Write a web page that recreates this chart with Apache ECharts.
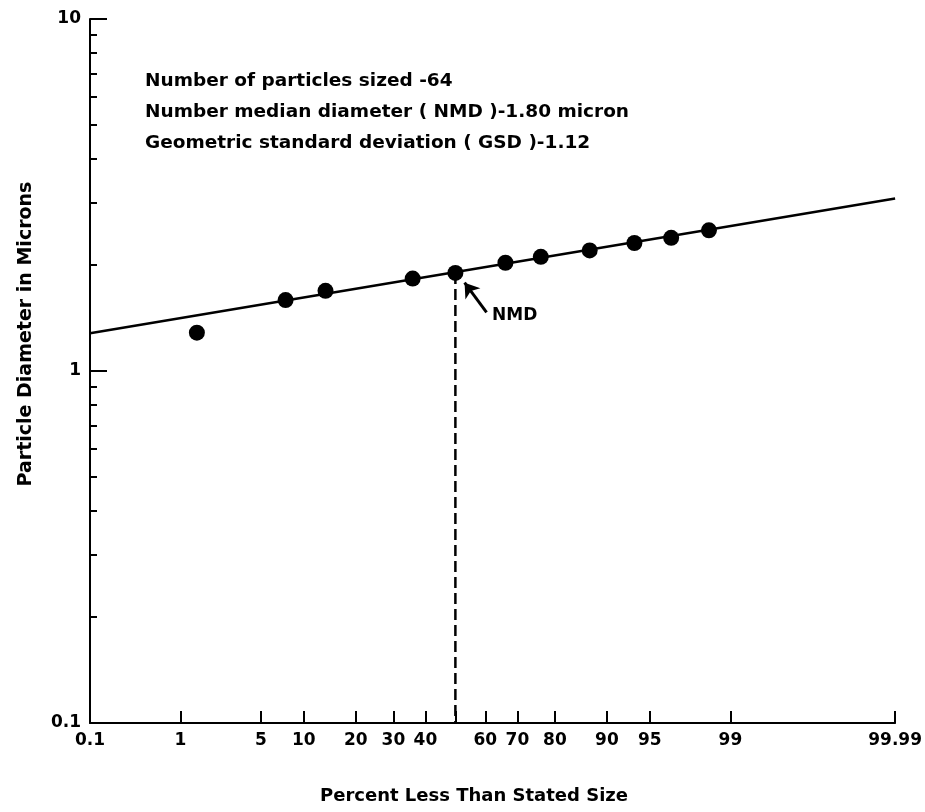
<!DOCTYPE html>
<html>
<head>
<meta charset="utf-8">
<script src="https://cdn.jsdelivr.net/npm/echarts@6/dist/echarts.min.js"></script>
<style>
html,body{margin:0;padding:0;background:#fff;}
#chart{width:925px;height:812px;}
</style>
</head>
<body>
<div id="chart"></div>
<script>
// ---- data ----
const pointPercent  = [1.44, 7.55, 13.6, 35.9, 50, 66.4, 76.5, 87.2, 93.5, 96.6, 98.4];
const pointDiameter = [1.285, 1.59, 1.69, 1.83, 1.90, 2.03, 2.11, 2.20, 2.31, 2.39, 2.51];
const fitPercent  = [0.1, 99.99];
const fitDiameter = [1.28, 3.09];
const nmdPercent = 50;
const nmdDiameter = 1.90;
const nmdArrowPercent  = [60.4, 53.1];
const nmdArrowDiameter = [1.468, 1.782];
const nmdLabelPercent = 62;
const nmdLabelDiameter = 1.434;
const xLabelPercents = [0.1, 1, 5, 10, 20, 30, 40, 60, 70, 80, 90, 95, 99, 99.99];
const xLabelTexts    = ['0.1','1','5','10','20','30','40','60','70','80','90','95','99','99.99'];
const xTickPercents  = [1, 5, 10, 20, 30, 40, 50, 60, 70, 80, 90, 95, 99, 99.99];
const yLabelValues = [0.1, 1, 10];
const yLabelTexts  = ['0.1', '1', '10'];
const yMinorTicks  = [0.2,0.3,0.4,0.5,0.6,0.7,0.8,0.9,2,3,4,5,6,7,8,9];
const yMajorTicks  = [1, 10];
const infoLines = [
  'Number of particles sized -64',
  'Number median diameter ( NMD )-1.80 micron',
  'Geometric standard deviation ( GSD )-1.12'
];
const xTitle = 'Percent Less Than Stated Size';
const yTitle = 'Particle Diameter in Microns';

// ---- probability (probit) and log transforms ----
function probit(p){
  const a=[-3.969683028665376e+01,2.209460984245205e+02,-2.759285104469687e+02,1.383577518672690e+02,-3.066479806614716e+01,2.506628277459239e+00];
  const b=[-5.447609879822406e+01,1.615858368580409e+02,-1.556989798598866e+02,6.680131188771972e+01,-1.328068155288572e+01];
  const c=[-7.784894002430293e-03,-3.223964580411365e-01,-2.400758277161838e+00,-2.549732539343734e+00,4.374664141464968e+00,2.938163982698783e+00];
  const d=[7.784695709041462e-03,3.224671290700398e-01,2.445134137142996e+00,3.754408661907416e+00];
  const pl=0.02425, ph=1-pl; let q,r;
  if(p<pl){q=Math.sqrt(-2*Math.log(p));return (((((c[0]*q+c[1])*q+c[2])*q+c[3])*q+c[4])*q+c[5])/((((d[0]*q+d[1])*q+d[2])*q+d[3])*q+1);}
  if(p<=ph){q=p-0.5;r=q*q;return (((((a[0]*r+a[1])*r+a[2])*r+a[3])*r+a[4])*r+a[5])*q/(((((b[0]*r+b[1])*r+b[2])*r+b[3])*r+b[4])*r+1);}
  q=Math.sqrt(-2*Math.log(1-p));return -(((((c[0]*q+c[1])*q+c[2])*q+c[3])*q+c[4])*q+c[5])/((((d[0]*q+d[1])*q+d[2])*q+d[3])*q+1);
}
const X = pct => probit(pct/100);
const Y = v => Math.log10(v);

const xLabelZ = xLabelPercents.map(X);
const xTickZ = xTickPercents.map(X);
const zMin = xLabelZ[0], zMax = xLabelZ[xLabelZ.length-1];
const yLabelLog = yLabelValues.map(Y);
const yMin = yLabelLog[0], yMax = yLabelLog[yLabelLog.length-1];

function nearestLabel(v, vals, texts){
  let best=0, bd=Infinity;
  vals.forEach((u,i)=>{const dd=Math.abs(u-v); if(dd<bd){bd=dd;best=i;}});
  return texts[best];
}

const FONT = 'DejaVu Sans';

const chart = echarts.init(document.getElementById('chart'), null, {renderer:'canvas'});
chart.setOption({
  animation: false,
  backgroundColor: '#fff',
  grid: {left: 90, top: 19, width: 806, height: 704, containLabel: false},
  xAxis: {
    type: 'value', min: zMin, max: zMax,
    splitLine: {show: false},
    axisLine: {show: true, onZero: false, lineStyle: {color: '#000', width: 2}},
    axisTick: {show: true, inside: true, length: 12, customValues: xTickZ, lineStyle: {color: '#000', width: 2}},
    axisLabel: {
      show: true, customValues: xLabelZ, margin: 9,
      formatter: v => nearestLabel(v, xLabelZ, xLabelTexts),
      color: '#000', fontFamily: FONT, fontWeight: 'bold', fontSize: 17
    }
  },
  yAxis: [{
    type: 'value', min: yMin, max: yMax, position: 'left',
    splitLine: {show: false},
    axisLine: {show: true, onZero: false, lineStyle: {color: '#000', width: 2}},
    axisTick: {show: true, inside: true, length: 7, customValues: yMinorTicks.map(Y), lineStyle: {color: '#000', width: 2}},
    axisLabel: {
      show: true, customValues: yLabelLog, margin: 9,
      formatter: v => nearestLabel(v, yLabelLog, yLabelTexts),
      color: '#000', fontFamily: FONT, fontWeight: 'bold', fontSize: 17
    }
  }, {
    type: 'value', min: yMin, max: yMax, position: 'left', offset: 0,
    splitLine: {show: false},
    axisLine: {show: false, onZero: false},
    axisTick: {show: true, inside: true, length: 17, customValues: yMajorTicks.map(Y), lineStyle: {color: '#000', width: 2}},
    axisLabel: {show: false}
  }],
  series: [
    {
      name: 'fit', type: 'line', z: 2,
      data: fitPercent.map((p,i)=>[X(p), Y(fitDiameter[i])]),
      symbol: 'none', lineStyle: {color: '#000', width: 2.5}, silent: true
    },
    {
      name: 'nmd-drop', type: 'line', z: 2,
      data: [[X(nmdPercent), Y(nmdDiameter)], [X(nmdPercent), yMin]],
      symbol: 'none', lineStyle: {color: '#000', width: 2.5, type: [11, 5]}, silent: true
    },
    {
      name: 'points', type: 'scatter', z: 5,
      data: pointPercent.map((p,i)=>[X(p), Y(pointDiameter[i])]),
      symbol: 'circle', symbolSize: 16,
      itemStyle: {color: '#000', opacity: 1}
    },
    {
      name: 'nmd-label', type: 'scatter', z: 6,
      data: [[X(nmdLabelPercent), Y(nmdLabelDiameter)]],
      symbolSize: 1, itemStyle: {color: '#fff', opacity: 0},
      label: {show: true, position: 'right', distance: 0, formatter: 'NMD', opacity: 1,
        color: '#000', fontFamily: FONT, fontWeight: 'bold', fontSize: 17},
      markLine: {
        silent: true, symbol: ['none', 'arrow'], symbolSize: 14,
        label: {show: false},
        lineStyle: {color: '#000', width: 3, type: 'solid', opacity: 1},
        itemStyle: {color: '#000', opacity: 1},
        data: [[
          {coord: [X(nmdArrowPercent[0]), Y(nmdArrowDiameter[0])]},
          {coord: [X(nmdArrowPercent[1]), Y(nmdArrowDiameter[1])]}
        ]]
      }
    }
  ],
  graphic: [
    ...infoLines.map((t,i)=>({
      type: 'text', x: 145, y: 81.5 + 31*i, z: 10,
      style: {text: t, fill: '#000', fontFamily: FONT, fontWeight: 'bold', fontSize: 18.5, verticalAlign: 'middle', textAlign: 'left'}
    })),
    {
      type: 'text', x: 474, y: 796, z: 10,
      style: {text: xTitle, fill: '#000', fontFamily: FONT, fontWeight: 'bold', fontSize: 18, verticalAlign: 'middle', textAlign: 'center'}
    },
    {
      type: 'text', x: 26, y: 334, rotation: Math.PI/2, z: 10,
      style: {text: yTitle, fill: '#000', fontFamily: FONT, fontWeight: 'bold', fontSize: 19, verticalAlign: 'middle', textAlign: 'center'}
    }
  ]
});
</script>
</body>
</html>
